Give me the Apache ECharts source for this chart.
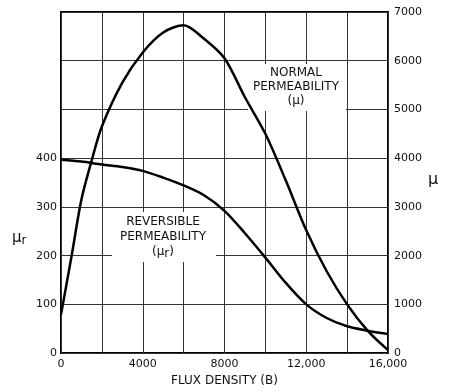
<!DOCTYPE html>
<html>
<head>
<meta charset="utf-8">
<script src="https://cdn.jsdelivr.net/npm/echarts@6/dist/echarts.min.js"></script>
<style>
  html, body { margin: 0; padding: 0; background: #fff; }
  #chart { width: 452px; height: 392px; }
</style>
</head>
<body>
<div id="chart"></div>
<script>
// flux density B (gauss)
const fluxB = [0, 500, 1000, 1500, 2000, 3000, 4000, 5000, 6000, 7000, 8000, 9000, 10000, 11000, 12000, 13000, 14000, 15000, 16000];
// normal permeability mu (right axis)
const normalMu = [790, 1950, 3150, 3950, 4650, 5550, 6170, 6580, 6730, 6450, 6050, 5250, 4500, 3540, 2520, 1680, 1000, 460, 60];
// reversible permeability mu_r (left axis), at every 1000 gauss from 0
const revB = [0, 1000, 2000, 3000, 4000, 5000, 6000, 7000, 8000, 9000, 10000, 11000, 12000, 13000, 14000, 15000, 16000];
const revMu = [397, 393, 387, 382, 374, 360, 344, 324, 292, 246, 196, 144, 100, 72, 55, 46, 39];

const xTickLabels = { 0: '0', 4000: '4000', 8000: '8000', 12000: '12,000', 16000: '16,000' };
const leftTickLabels = ['0', '100', '200', '300', '400'];

const font = '"DejaVu Sans", sans-serif';
const chart = echarts.init(document.getElementById('chart'));

const option = {
  backgroundColor: '#fff',
  animation: false,
  grid: {
    left: 61, right: 64, top: 12, bottom: 30,
    show: true, borderColor: '#000', borderWidth: 2
  },
  xAxis: {
    type: 'value', min: 0, max: 16000, interval: 2000,
    axisLine: { show: false },
    axisTick: { show: false },
    splitLine: { lineStyle: { color: '#333', width: 1 } },
    axisLabel: {
      color: '#111', fontFamily: font, fontSize: 11, margin: 6,
      formatter: v => xTickLabels[v] || ''
    },
    name: 'FLUX DENSITY (B)',
    nameLocation: 'middle', nameGap: 21,
    nameTextStyle: { color: '#111', fontFamily: font, fontSize: 12 }
  },
  yAxis: [
    {
      type: 'value', min: 0, max: 700, interval: 100,
      axisLine: { show: false },
      axisTick: { show: false },
      splitLine: { show: false },
      axisLabel: {
        color: '#111', fontFamily: font, fontSize: 11, margin: 4,
        formatter: v => leftTickLabels[v / 100] || ''
      }
    },
    {
      type: 'value', min: 0, max: 7000, interval: 1000, position: 'right',
      axisLine: { show: false },
      axisTick: { show: false },
      splitLine: { lineStyle: { color: '#333', width: 1 } },
      axisLabel: { color: '#111', fontFamily: font, fontSize: 11, margin: 6, formatter: v => String(v) }
    }
  ],
  series: [
    {
      name: 'Normal permeability',
      type: 'line', yAxisIndex: 1,
      data: fluxB.map((b, i) => [b, normalMu[i]]),
      smooth: 0.3,
      showSymbol: false,
      lineStyle: { color: '#000', width: 2.5 },
      z: 5
    },
    {
      name: 'Reversible permeability',
      type: 'line', yAxisIndex: 0,
      data: revB.map((b, i) => [b, revMu[i]]),
      smooth: 0.3,
      showSymbol: false,
      lineStyle: { color: '#000', width: 2.5 },
      z: 5
    }
  ],
  graphic: [
    {
      type: 'rect', z: 1,
      shape: { x: 248, y: 64, width: 98, height: 47 },
      style: { fill: '#fff' }
    },
    {
      type: 'text', x: 296, y: 66, z: 10,
      style: {
        text: 'NORMAL\nPERMEABILITY\n(μ)', align: 'center', verticalAlign: 'top',
        font: '12px ' + font, fill: '#111', lineHeight: 14
      }
    },
    {
      type: 'rect', z: 1,
      shape: { x: 112, y: 212, width: 104, height: 50 },
      style: { fill: '#fff' }
    },
    {
      type: 'text', x: 163, y: 214, z: 10,
      style: {
        text: 'REVERSIBLE\nPERMEABILITY\n(μ{s|r})', align: 'center', verticalAlign: 'top',
        font: '12px ' + font, fill: '#111', lineHeight: 15,
        rich: { s: { font: '12px ' + font, fill: '#111', padding: [4, 0, 0, 0] } }
      }
    },
    {
      type: 'text', x: 12, y: 230, z: 10,
      style: {
        text: 'μ{s|r}', font: '15px ' + font, fill: '#111',
        rich: { s: { font: '12px ' + font, fill: '#111', padding: [5, 0, 0, 0] } }
      }
    },
    {
      type: 'text', x: 428, y: 172, z: 10,
      style: { text: 'μ', font: '16px ' + font, fill: '#111' }
    }
  ]
};

chart.setOption(option);
</script>
</body>
</html>
